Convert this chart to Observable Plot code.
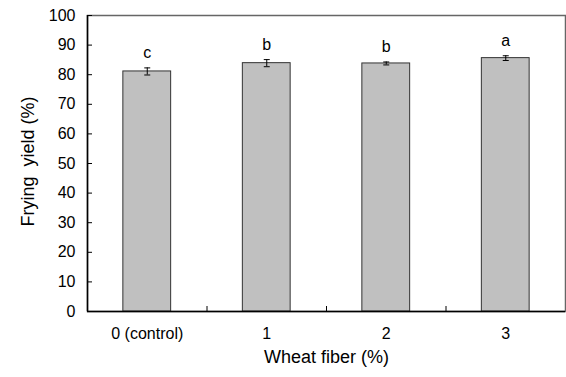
<!DOCTYPE html>
<html>
<head>
<meta charset="utf-8">
<script src="https://cdn.jsdelivr.net/npm/d3@7"></script>
<script src="https://cdn.jsdelivr.net/npm/@observablehq/plot@0.6"></script>
<style>
  html, body { margin: 0; padding: 0; background: #fff; }
  svg { display: block; }
</style>
</head>
<body>
<div id="chart"></div>
<script>
const categories = ["0 (control)", "1", "2", "3"];
const yieldMean = [81.1, 83.9, 83.8, 85.6];
const yieldErr = [1.2, 1.2, 0.5, 0.8];
const letters = ["c", "b", "b", "a"];
const yTicks = [0, 10, 20, 30, 40, 50, 60, 70, 80, 90, 100];
const xLabel = "Wheat fiber (%)";
const yLabel = "Frying\u00a0 yield (%)";

const data = categories.map((c, i) => ({i, cat: c, mean: yieldMean[i], err: yieldErr[i], letter: letters[i]}));
const halfBar = 0.2;
const halfCap = 0.025;

const chart = Plot.plot({
  width: 566,
  height: 377,
  marginLeft: 87,
  marginRight: 1,
  marginTop: 15,
  marginBottom: 66,
  style: {fontFamily: "'Liberation Sans', Arial, sans-serif", color: "#000", background: "#fff"},
  x: {type: "linear", domain: [-0.5, 3.5]},
  y: {domain: [0, 100]},
  marks: [
    Plot.frame({stroke: "#666", strokeWidth: 1.5}),
    Plot.rectY(data, {x1: d => d.i - halfBar, x2: d => d.i + halfBar, y1: 0, y2: "mean", fill: "#c0c0c0", stroke: "#333", strokeWidth: 1}),
    Plot.ruleX(data, {x: "i", y1: d => d.mean - d.err, y2: d => d.mean + d.err, stroke: "#000", strokeWidth: 1}),
    Plot.link(data, {x1: d => d.i - halfCap, x2: d => d.i + halfCap, y1: d => d.mean - d.err, y2: d => d.mean - d.err, stroke: "#000", strokeWidth: 1}),
    Plot.link(data, {x1: d => d.i - halfCap, x2: d => d.i + halfCap, y1: d => d.mean + d.err, y2: d => d.mean + d.err, stroke: "#000", strokeWidth: 1}),
    Plot.text(data, {x: "i", y: d => d.mean + d.err, text: "letter", dy: -15, fontSize: 16, fill: "#000"}),
    Plot.ruleY([0], {stroke: "#000", strokeWidth: 1.5}),
    Plot.ruleX([-0.5], {stroke: "#000", strokeWidth: 1.5}),
    Plot.axisY({ticks: yTicks, tickSize: 5, dx: 5, tickFormat: () => "", label: null, stroke: "#000"}),
    Plot.axisY({ticks: yTicks, tickSize: 0, tickPadding: 12, fontSize: 16, color: "#000", label: null}),
    Plot.axisX({ticks: [0.5, 1.5, 2.5], tickSize: 5, dy: -5, tickFormat: () => "", label: null, stroke: "#000"}),
    Plot.axisX({ticks: [0, 1, 2, 3], tickFormat: i => categories[i], tickSize: 0, tickPadding: 16, fontSize: 16, color: "#000", label: null}),
    Plot.text([xLabel], {frameAnchor: "bottom", lineAnchor: "middle", textAnchor: "middle", dy: 46, fontSize: 18, fill: "#000"}),
    Plot.text([yLabel], {frameAnchor: "left", lineAnchor: "middle", textAnchor: "middle", dx: -59, dy: -2, rotate: -90, fontSize: 18, fill: "#000"})
  ]
});
document.getElementById("chart").appendChild(chart);
</script>
</body>
</html>
